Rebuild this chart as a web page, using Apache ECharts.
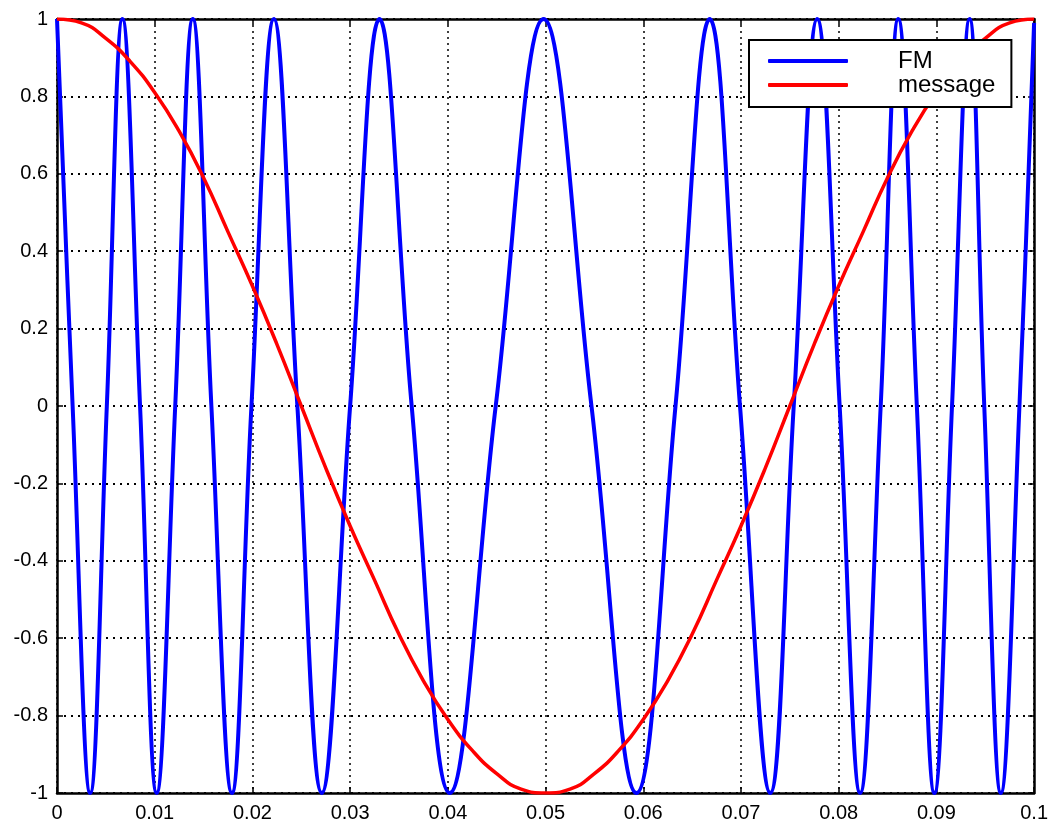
<!DOCTYPE html>
<html>
<head>
<meta charset="utf-8">
<script src="https://cdn.jsdelivr.net/npm/echarts@6/dist/echarts.min.js"></script>
<style>
  html, body { margin: 0; padding: 0; background: #fff; }
  #chart { width: 1051px; height: 825px; }
</style>
</head>
<body>
<div id="chart"></div>
<script>
// tick labels
const xTicks = ['0', '0.01', '0.02', '0.03', '0.04', '0.05', '0.06', '0.07', '0.08', '0.09', '0.1']
const yTicks = ['-1', '-0.8', '-0.6', '-0.4', '-0.2', '0', '0.2', '0.4', '0.6', '0.8', '1']

// FM signal: peaks, zero crossings and troughs
const fmT = [
  0.0000, 0.0016, 0.0034, 0.0051, 0.0067, 0.0085, 0.0102, 0.0121, 0.0139, 0.0158,
  0.0179, 0.0199, 0.0222, 0.0246, 0.0271, 0.0300, 0.0330, 0.0363, 0.0402, 0.0449,
  0.0498, 0.0547, 0.0593, 0.0633, 0.0668, 0.0699, 0.0730, 0.0754, 0.0778, 0.0801,
  0.0822, 0.0843, 0.0861, 0.0880, 0.0898, 0.0916, 0.0934, 0.0949, 0.0966, 0.0985,
  0.1000
]
const fmV = [
  1, 0, -1, 0, 1, 0, -1, 0, 1, 0,
  -1, 0, 1, 0, -1, 0, 1, 0, -1, 0,
  1, 0, -1, 0, 1, 0, -1, 0, 1, 0,
  -1, 0, 1, 0, -1, 0, 1, 0, -1, 0,
  0.99
]

// message signal
const msgT = [
  0, 0.0025, 0.005, 0.0075, 0.01, 0.0125, 0.015, 0.0175, 0.02, 0.0225,
  0.025, 0.0275, 0.03, 0.0325, 0.035, 0.0375, 0.04, 0.0425, 0.045, 0.0475,
  0.05, 0.0525, 0.055, 0.0575, 0.06, 0.0625, 0.065, 0.0675, 0.07, 0.0725,
  0.075, 0.0775, 0.08, 0.0825, 0.085, 0.0875, 0.09, 0.0925, 0.095, 0.0975,
  0.1
]
const msgV = [
  1, 0.99, 0.95, 0.89, 0.81, 0.71, 0.59, 0.45, 0.31, 0.16,
  0, -0.16, -0.31, -0.45, -0.59, -0.71, -0.81, -0.89, -0.95, -0.99,
  -1, -0.99, -0.95, -0.89, -0.81, -0.71, -0.59, -0.45, -0.31, -0.16,
  0, 0.16, 0.31, 0.45, 0.59, 0.71, 0.81, 0.89, 0.95, 0.99,
  1
]

const font = 'Liberation Sans, Arial, sans-serif'
const chart = echarts.init(document.getElementById('chart'))

const xLabel = v => xTicks[Math.round(v / 0.01)]
const yLabel = v => yTicks[Math.round((v + 1) / 0.2)]

const frameLine = { show: true, onZero: false, lineStyle: { color: '#000', width: 2.5 } }
const innerTick = { show: true, inside: true, length: 6, lineStyle: { color: '#000', width: 1.5 } }

const option = {
  animation: false,
  backgroundColor: '#fff',
  grid: { left: 57, right: 13, top: 19, bottom: 32 },
  legend: {
    data: ['FM', 'message'],
    orient: 'vertical',
    left: 749,
    top: 40,
    padding: [9, 16, 10, 19],
    icon: 'roundRect',
    itemWidth: 80,
    itemHeight: 4,
    itemGap: 0,
    borderColor: '#000',
    borderWidth: 2,
    borderRadius: 0,
    backgroundColor: '#fff',
    textStyle: { fontFamily: font, fontSize: 24, color: '#000', lineHeight: 20, padding: [0, 0, 0, 45] }
  },
  xAxis: [
    {
      type: 'value', min: 0, max: 0.1, interval: 0.01,
      axisLine: frameLine, axisTick: innerTick,
      axisLabel: { formatter: xLabel, fontFamily: font, fontSize: 20, color: '#000', margin: 10 },
      splitLine: { show: true, lineStyle: { color: '#000', width: 1.5, type: [2, 4] } }
    },
    {
      type: 'value', position: 'top', min: 0, max: 0.1, interval: 0.01,
      axisLine: frameLine, axisTick: innerTick, axisLabel: { show: false }, splitLine: { show: false }
    }
  ],
  yAxis: [
    {
      type: 'value', min: -1, max: 1, interval: 0.2,
      axisLine: frameLine, axisTick: innerTick,
      axisLabel: { formatter: yLabel, fontFamily: font, fontSize: 20, color: '#000', margin: 9 },
      splitLine: { show: true, lineStyle: { color: '#000', width: 2, type: [2, 5] } }
    },
    {
      type: 'value', position: 'right', min: -1, max: 1, interval: 0.2,
      axisLine: frameLine, axisTick: innerTick, axisLabel: { show: false }, splitLine: { show: false }
    }
  ],
  series: [
    {
      name: 'FM',
      type: 'line',
      data: fmT.map((t, i) => [t, fmV[i]]),
      smooth: 0.4,
      showSymbol: false,
      symbol: 'none',
      lineStyle: { color: '#0000ff', width: 4 },
      itemStyle: { color: '#0000ff' }
    },
    {
      name: 'message',
      type: 'line',
      data: msgT.map((t, i) => [t, msgV[i]]),
      smooth: true,
      showSymbol: false,
      symbol: 'none',
      lineStyle: { color: '#ff0000', width: 3.5 },
      itemStyle: { color: '#ff0000' }
    }
  ]
}
chart.setOption(option)
</script>
</body>
</html>
